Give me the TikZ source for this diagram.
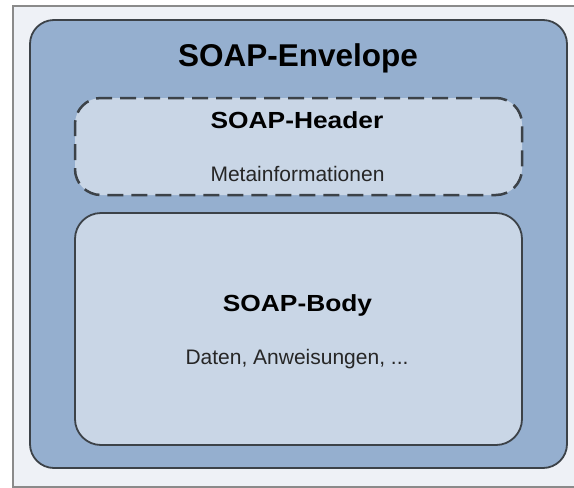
\documentclass[tikz,border=0pt]{standalone}
\usepackage{fontspec}
\setmainfont{Liberation Sans}
\usepackage{graphicx}
\definecolor{framebg}{HTML}{EEF1F6}
\definecolor{frameline}{HTML}{8A8A8A}
\definecolor{envfill}{HTML}{95AFCF}
\definecolor{innerfill}{HTML}{C9D6E6}
\definecolor{edge}{HTML}{3C4248}
\tikzset{
  panel/.style={rectangle, inner sep=0pt, outer sep=0pt, draw=edge, line width=1.8pt},
  envbox/.style={panel, fill=envfill, rounded corners=24pt},
  partbox/.style={panel, fill=innerfill, rounded corners=26pt},
  optional/.style={dash pattern=on 16pt off 8pt, line width=2.5pt},
  label/.style={anchor=base, inner sep=0pt, text=black},
  title/.style={label, font=\fontsize{31.5}{36}\selectfont\bfseries},
  subtitle/.style={label, font=\fontsize{23.3}{27}\selectfont\bfseries},
  detail/.style={label, font=\fontsize{21}{25}\selectfont, text=black!85}
}
\begin{document}
\begin{tikzpicture}[x=1pt,y=-1pt]
  \useasboundingbox (0,0) rectangle (574,488);
  \clip (0,0) rectangle (574,488);
  % outer window frame
  \draw[frameline, line width=2pt, fill=framebg] (13,6) rectangle (590,487);
  % envelope with header and body
  \node[envbox, minimum width=537pt, minimum height=448pt] (envelope) at (298.5,244) {};
  \node[partbox, optional, minimum width=447pt, minimum height=97pt] (header) at (298.5,146.5) {};
  \node[partbox, minimum width=447pt, minimum height=232pt] (body) at (298.5,329) {};
  % labels
  \node[title] (envtitle) at (298,66) {SOAP-Envelope};
  \node[subtitle] (hdrtitle) at (297,128) {\scalebox{1.13}[1]{SOAP-Header}};
  \node[detail] (hdrtext) at (297.5,181.5) {Metainformationen};
  \node[subtitle] (bdytitle) at (297.5,311.5) {\scalebox{1.13}[1]{SOAP-Body}};
  \node[detail] (bdytext) at (297,364) {Daten, Anweisungen, ...};
\end{tikzpicture}
\end{document}
